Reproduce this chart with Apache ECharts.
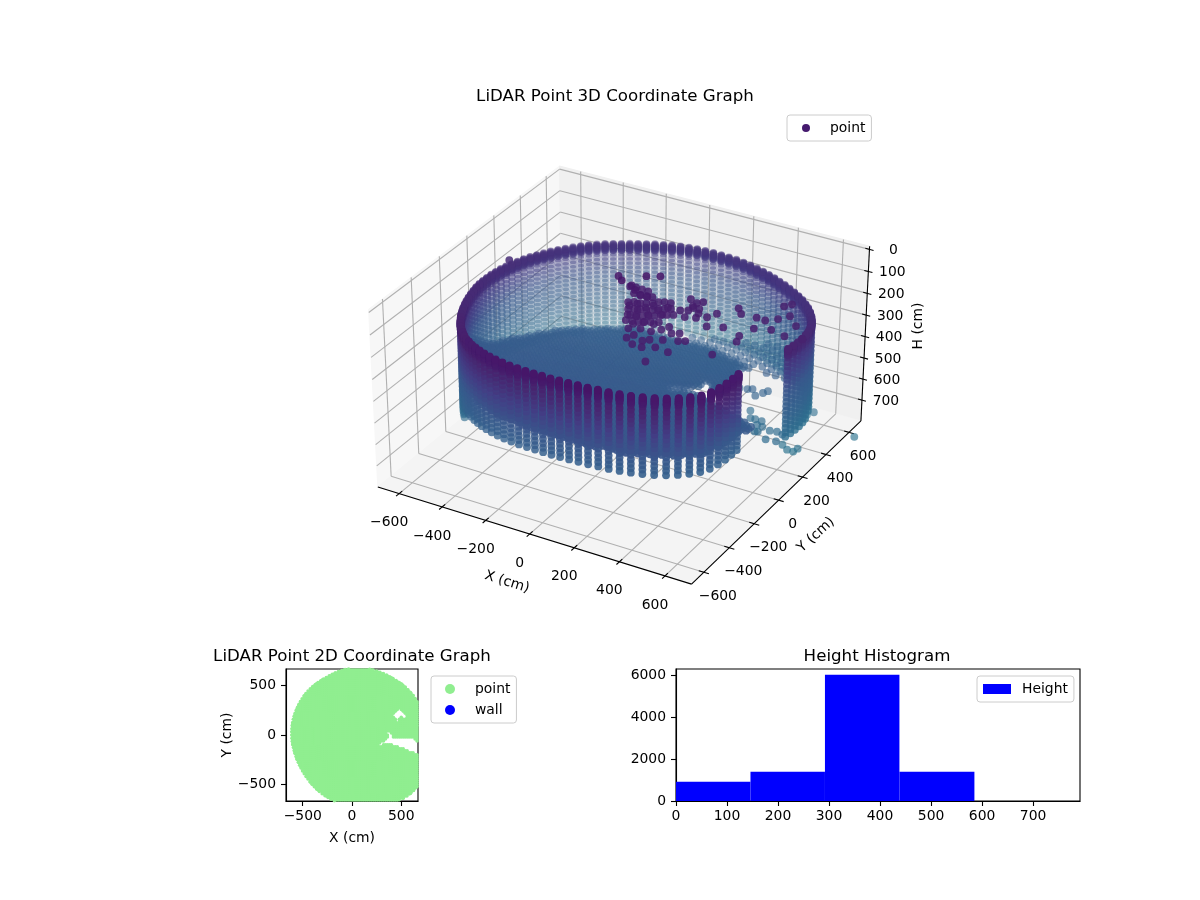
<!DOCTYPE html>
<html>
<head>
<meta charset="UTF-8"/>
<script src="https://cdn.jsdelivr.net/npm/echarts@6/dist/echarts.min.js"></script>
<style>body{margin:0;background:#fff}#main{width:1200px;height:900px}</style>
</head>
<body>
<div id="main"></div>
<script>
// tick labels
var xTicks3d = [-600,-400,-200,0,200,400,600];
var yTicks3d = [-600,-400,-200,0,200,400,600];
var hTicks3d = [0,100,200,300,400,500,600,700];
var ticks2d = [-500,0,500];
var histXTicks = [0,100,200,300,400,500,600,700];
var histYTicks = [0,2000,4000,6000];

// wall scan: azimuth (deg), range (cm) and top height (cm) of each column, row depths below the top
var wallAzimuth = [3,6,9,12,15,18,21,24,27,30,
    33,36,39,42,45,48,51,54,57,60,
    63,66,69,72,75,78,81,84,87,90,
    93,96,99,102,105,108,111,114,117,120,
    123,126,129,132,135,138,141,144,147,150,
    153,156,159,162,165,168,171,174,177,180,
    183,186,189,192,195,198,201,204,207,210,
    213,216,219,222,225,228,231,234,237,240,
    243,246,249,252,255,258,261,264,267,270,
    273,276,279,282,285,288,291,294,297,300,
    303,306,309,312,315,318,321,324,327,330,
    333,336];
var wallRange = [716,721,726,731,735,738,740,741,741,740,
    738,735,731,727,722,717,712,708,704,702,
    700,698,696,694,691,688,685,682,678,674,
    671,668,664,659,654,649,644,640,637,635,
    634,634,634,633,632,630,628,626,624,622,
    621,620,619,618,617,616,615,614,613,612,
    611,610,609,608,608,608,609,610,612,614,
    617,620,624,628,633,638,644,650,656,662,
    668,674,680,686,691,695,698,700,701,702,
    705,710,717,725,734,744,755,766,778,790,
    802,814,825,834,840,842,841,830,812,792,
    772,752];
var wallTop = [123,127,131,135,139,144,148,153,157,162,
    165,168,171,173,175,177,179,180,182,183,
    184,185,186,186,186,185,185,185,184,183,
    182,182,181,180,180,179,179,178,177,177,
    176,175,175,174,174,173,172,170,169,168,
    167,165,164,163,162,160,158,157,155,154,
    152,150,148,147,146,144,143,140,138,135,
    131,127,123,118,113,107,100,96,92,84,
    80,74,69,64,60,58,56,55,55,55,
    54,53,52,50,49,48,48,48,50,51,
    52,53,54,55,56,58,60,62,64,66,
    68,70];
var wallRowDepth = [0,2.5,5,7.5,10,12.5,15,17.5,20,22.5,25,27.5,30,40,60,80,100,120,140,160,180,200,220,240,260,280,300,320,340];
// the far side of the wall is seen further down, below the near-side rows
var farRowDepth = [360,380,400];
var farAzimuthEnd = 230;
// the first columns next to the wall gap read darker
var strongAzimuthEnd = 20;

// floor points: grid rows/columns (cm) and the height of each row
var floorColumns = [-720,-700,-680,-660,-640,-620,-600,-580,-560,-540,-520,-500,-480,-460,-440,-420,-400,-380,-360,-340,-320,-300,-280,-260,-240,-220,-200,-180,-160,-140,-120,-100,-80,-60,-40,-20,0,20,40,60,80,100,120,140,160,180,200,220,240,260,280,300,320,340,360,380,400,420,440,460,480,500,520,540,560,580,600,620,640,660,680,700,720];
var floorRows = floorColumns.slice();
var floorRowHeight = [300,302,304,306,308,309,311,313,315,317,319,321,323,325,326,328,330,332,334,336,338,340,341,343,345,347,349,351,353,355,357,358,360,362,364,366,368,370,372,374,375,377,379,381,383,385,387,389,391,392,394,396,398,400,402,404,406,408,409,411,413,415,417,419,421,423,425,426,428,430,432,434,436];

// white gaps in the floor seen from above
var gapWedgeX = [252,364,357,388,415,619,670,760,760,670,483,364];
var gapWedgeY = [-116,-31,27,27,-24,-31,-88,-60,-230,-200,-122,-82];
var gapStarX = [408,483,510,558,483,456,449];
var gapStarY = [190,265,252,170,184,116,173];
// floor returns that only show from above: far part and right sector
var thinX = [-509,-351,-98,273,480,470,800,800,-800,-800];
var thinY = [-144,129,319,302,230,-120,-120,800,800,-144];
// patch inside that part where the returns are still seen, but sparser
var patchyX = [104,463,623,284];
var patchyY = [361,521,247,53];

// hanging clutter over the floor
var clutterX = [-72,-43,23,71,2,32,61,92,49,80,95,149,164,187,234,135,162,204,137,266,264,312,321,355,374,389,426,456,448,546,533,554,522,561,616,327,267,300,351,181,252,232,296,375,212,255,300,360,322,514,96,116,112,131,196,178,224,251,168,69,214,239,280,-610,
    -26,-2,26,55,15,44,68,93,31,51,76,96,117,133,153,178,59,79,100,124,145,161,181,202,90,110,135,155,175,192,212,121,145,165,186,230,266,283,273,297,
    554,611,668,667,737,582,573];
var clutterY = [107,82,159,185,81,56,47,47,-17,-83,-33,-46,4,41,1,-137,-105,-99,-177,60,100,59,23,49,93,-15,172,137,9,-63,-19,59,140,137,83,-115,-90,-130,-169,-211,-214,-234,-190,-156,-276,-279,-254,-263,-367,-196,-125,-81,1,27,-20,-155,-154,-123,-243,10,-77,45,8,165,
    118,122,120,118,77,75,80,85,4,16,20,32,44,62,74,79,-44,-32,-21,-16,-4,14,26,38,-81,-70,-65,-53,-41,-23,-11,-119,-114,-103,-91,145,129,148,88,92,
    305,246,188,96,108,203,334];
var clutterH = [50,50,50,50,60,60,70,70,90,90,90,90,90,90,90,90,90,90,90,90,90,90,90,90,90,90,90,90,90,90,90,90,90,90,90,90,90,90,90,90,90,90,90,90,90,90,90,90,90,90,90,90,90,90,90,90,90,90,90,90,90,90,90,150,
    90,90,90,90,90,90,90,90,90,90,90,90,90,90,90,90,90,90,90,90,90,90,90,90,90,90,90,90,90,90,90,90,90,90,90,90,90,90,90,90,
    110,110,110,110,110,110,110];

// low teal returns behind the wall gap and two stray points
var ledgeX = [520,548,568,597,595,620,611,622,659,687,676,718,715,707,740,767,772,493,544,560,570,510,392,431,462,224,215,726,921];
var ledgeY = [113,62,64,63,29,26,-20,-15,14,21,-51,-45,12,32,8,7,35,135,105,138,160,145,131,126,127,-94,-115,254,224];
var ledgeH = [500,500,500,500,500,500,500,500,500,500,500,500,500,560,560,560,560,420,420,420,420,420,420,420,420,420,420,520,560];

// height histogram
var histEdges = [0,146,292,438,585];
var histCounts = [920,1400,6030,1400];

var font = '"DejaVu Sans"';
var heightColors = [[0,68,1,84],[60,71,25,107],[120,72,36,111],[220,67,62,133],[320,56,88,140],[430,51,99,141],[560,44,114,142]];

// box limits of the 3d plot
var xLim = [-700,715], yLim = [-695,705], hLim = [-14,800];
var elevS = 0.552, elevC = 0.834, boxZ = 0.66;

function project(x, y, h) {
    var dx = (x - xLim[0]) / (xLim[1] - xLim[0]) - 0.5;
    var dy = (y - yLim[0]) / (yLim[1] - yLim[0]) - 0.5;
    var dz = ((hLim[1] - h) / (hLim[1] - hLim[0]) - 0.5) * boxZ;
    var xc = 0.866 * dx + 0.5 * dy;
    var yc = -0.5 * elevS * dx + 0.866 * elevS * dy + elevC * dz;
    var dn = 0.5 * elevC * dx - 0.866 * elevC * dy + elevS * dz;
    var w = 10 - dn;
    return [623 + 3600 * xc / w, 367 - 3200 * yc / w, w];
}

function colorOf(h) {
    var c = heightColors, i = 0;
    while (i < c.length - 2 && h > c[i + 1][0]) i++;
    var t = Math.max(0, Math.min(1, (h - c[i][0]) / (c[i + 1][0] - c[i][0])));
    return [1, 2, 3].map(function (k) { return Math.round(c[i][k] + (c[i + 1][k] - c[i][k]) * t); });
}

function inPolygon(px, py, xs, ys) {
    var inside = false;
    for (var i = 0, j = xs.length - 1; i < xs.length; j = i++) {
        if ((ys[i] > py) !== (ys[j] > py) && px < (xs[j] - xs[i]) * (py - ys[i]) / (ys[j] - ys[i]) + xs[i]) inside = !inside;
    }
    return inside;
}

function rangeAt(x, y) {
    var az = Math.atan2(y, x) * 180 / Math.PI;
    if (az < 0) az += 360;
    var best = 0, bestD = 999;
    wallAzimuth.forEach(function (a, i) {
        var d = Math.abs(a - az);
        d = Math.min(d, 360 - d);
        if (d < bestD) { bestD = d; best = i; }
    });
    return wallRange[best];
}

// collect the point cloud
var cloud = [];
wallAzimuth.forEach(function (a, i) {
    var x = wallRange[i] * Math.cos(a * Math.PI / 180), y = wallRange[i] * Math.sin(a * Math.PI / 180);
    var minAlpha = a < strongAzimuthEnd ? 0.8 : 0;
    wallRowDepth.forEach(function (d) { cloud.push([x, y, wallTop[i] + d, minAlpha]); });
    if (a < farAzimuthEnd) farRowDepth.forEach(function (d) { cloud.push([x, y, wallTop[i] + d, minAlpha]); });
});
var flat = [];
floorRows.forEach(function (y, r) {
    floorColumns.forEach(function (x, c) {
        if (Math.sqrt(x * x + y * y) > rangeAt(x, y)) return;
        if (inPolygon(x, y, gapWedgeX, gapWedgeY) || inPolygon(x, y, gapStarX, gapStarY)) return;
        flat.push([x, y]);
        if (inPolygon(x, y, thinX, thinY) && !(inPolygon(x, y, patchyX, patchyY) && r % 2 === 0 && c % 2 === 0)) return;
        cloud.push([x, y, floorRowHeight[r], 0]);
    });
});
clutterX.forEach(function (x, i) { cloud.push([x, clutterY[i], clutterH[i], 0.85]); });
ledgeX.forEach(function (x, i) { cloud.push([x, ledgeY[i], ledgeH[i], 0]); });

var projected = cloud.map(function (p) {
    var s = project(p[0], p[1], p[2]);
    return { s: s, h: p[2], minAlpha: p[3] };
});
var wMin = Infinity, wMax = -Infinity;
projected.forEach(function (p) { wMin = Math.min(wMin, p.s[2]); wMax = Math.max(wMax, p.s[2]); });
projected.sort(function (a, b) { return b.s[2] - a.s[2]; });
var scatter3d = projected.map(function (p) {
    var rgb = colorOf(p.h), alpha = Math.max(p.minAlpha, 1 - 0.7 * (p.s[2] - wMin) / (wMax - wMin));
    return { value: [p.s[0], p.s[1]], itemStyle: { color: 'rgba(' + rgb.join(',') + ',' + alpha.toFixed(3) + ')', opacity: 1 } };
});

// box primitives: panes, grid lines, axis lines, ticks and labels
var prims = [];
function poly(pts, fill) { prims.push({ kind: 'polygon', pts: pts, fill: fill }); }
function seg(a, b, color, width) { prims.push({ kind: 'line', a: a, b: b, color: color, width: width }); }
function label(pos, text, rot, size) { prims.push({ kind: 'text', pos: pos, text: text, rot: rot || 0, size: size || 13.9 }); }
var x0 = xLim[0], x1 = xLim[1], y0 = yLim[0], y1 = yLim[1], hT = hLim[0], hB = hLim[1];
poly([project(x0,y0,hB), project(x0,y1,hB), project(x0,y1,hT), project(x0,y0,hT)], '#f7f7f7');
poly([project(x0,y1,hB), project(x1,y1,hB), project(x1,y1,hT), project(x0,y1,hT)], '#f0f0f0');
poly([project(x0,y0,hB), project(x1,y0,hB), project(x1,y1,hB), project(x0,y1,hB)], '#f4f4f4');
var gridColor = '#b0b0b0';
xTicks3d.forEach(function (x) {
    seg(project(x,y0,hB), project(x,y1,hB), gridColor, 1.1);
    seg(project(x,y1,hB), project(x,y1,hT), gridColor, 1.1);
});
yTicks3d.forEach(function (y) {
    seg(project(x0,y,hB), project(x1,y,hB), gridColor, 1.1);
    seg(project(x0,y,hB), project(x0,y,hT), gridColor, 1.1);
});
hTicks3d.forEach(function (h) {
    seg(project(x0,y0,h), project(x0,y1,h), gridColor, 1.1);
    seg(project(x0,y1,h), project(x1,y1,h), gridColor, 1.1);
});
seg(project(x0,y0,hB), project(x1,y0,hB), '#000', 1.1);
seg(project(x1,y0,hB), project(x1,y1,hB), '#000', 1.1);
seg(project(x1,y1,hB), project(x1,y1,hT), '#000', 1.1);
function minus(v) { return String(v).replace('-', '\u2212'); }
xTicks3d.forEach(function (x) {
    seg(project(x,y0-22,hB), project(x,y0+22,hB), '#000', 1.1);
    var p = project(x,y0,hB);
    label([p[0]-10, p[1]+29], minus(x));
});
yTicks3d.forEach(function (y) {
    seg(project(x1-22,y,hB), project(x1+22,y,hB), '#000', 1.1);
    var p = project(x1,y,hB);
    label([p[0]+14, p[1]+24], minus(y));
});
hTicks3d.forEach(function (h) {
    seg(project(x1-18,y1,h), project(x1+18,y1,h), '#000', 1.1);
    var p = project(x1,y1,h);
    label([p[0]+24, p[1]+1], String(h));
});
label([507,582], 'X (cm)', -0.3);
label([816,535], 'Y (cm)', 0.74);
label([918,326], 'H (cm)', Math.PI / 2);

function renderBox(params, api) {
    var p = prims[params.dataIndex];
    if (p.kind === 'polygon') {
        return { type: 'polygon', shape: { points: p.pts.map(function (q) { return api.coord([q[0], q[1]]); }) }, style: { fill: p.fill, stroke: p.fill } };
    }
    if (p.kind === 'line') {
        var a = api.coord([p.a[0], p.a[1]]), b = api.coord([p.b[0], p.b[1]]);
        return { type: 'line', shape: { x1: a[0], y1: a[1], x2: b[0], y2: b[1] }, style: { stroke: p.color, lineWidth: p.width } };
    }
    var c = api.coord(p.pos);
    return { type: 'text', x: c[0], y: c[1], rotation: p.rot, style: { text: p.text, x: 0, y: 0, align: 'center', verticalAlign: 'middle', fill: '#000', font: p.size + 'px ' + font } };
}

function renderHist(params, api) {
    var i = params.dataIndex;
    var a = api.coord([histEdges[i], histCounts[i]]), b = api.coord([histEdges[i + 1], 0]);
    return { type: 'rect', shape: { x: a[0], y: a[1], width: b[0] - a[0], height: b[1] - a[1] }, style: { fill: '#0000ff' } };
}

var tickStyle = { show: true, length: 5, inside: false, lineStyle: { color: '#000', width: 1.1 } };
function valueAxis(grid, lo, hi, ticks, margin, name, gap, rotate) {
    return {
        type: 'value', gridIndex: grid, min: lo, max: hi, splitLine: { show: false },
        name: name, nameLocation: 'middle', nameGap: gap, nameRotate: rotate,
        nameTextStyle: { fontFamily: font, fontSize: 13.9, color: '#000' },
        axisLine: { show: true, onZero: false, lineStyle: { color: '#000', width: 1.1 } },
        axisTick: Object.assign({ customValues: ticks }, tickStyle),
        axisLabel: { customValues: ticks, margin: margin, fontFamily: font, fontSize: 13.9, color: '#000', formatter: minus }
    };
}
var hidden = function (hi, inverse) { return { type: 'value', gridIndex: 0, min: 0, max: hi, inverse: inverse, show: false }; };
var legendBox = { orient: 'vertical', backgroundColor: '#fff', borderColor: '#ccc', borderWidth: 1, borderRadius: 3, selectedMode: false, itemGap: 7,
    textStyle: { fontFamily: font, fontSize: 13.9, color: '#000' } };
function titleAt(text, x, y) {
    return { text: text, left: x, top: y, textAlign: 'center', textStyle: { fontFamily: font, fontSize: 16.67, fontWeight: 'normal', color: '#000' } };
}

var myChart = echarts.init(document.getElementById('main'), null, { renderer: 'canvas' });
myChart.setOption({
    animation: false,
    backgroundColor: '#fff',
    title: [titleAt('LiDAR Point 3D Coordinate Graph', 610, 83), titleAt('LiDAR Point 2D Coordinate Graph', 347, 643), titleAt('Height Histogram', 872, 643)],
    grid: [
        { left: 0, top: 0, width: 1200, height: 900 },
        { left: 286, top: 669, width: 132, height: 132, show: true, borderColor: '#000', borderWidth: 1.1, backgroundColor: '#fff' },
        { left: 676, top: 669, width: 404, height: 132, show: true, borderColor: '#000', borderWidth: 1.1, backgroundColor: '#fff' }
    ],
    xAxis: [hidden(1200, false), valueAxis(1, -670, 670, ticks2d, 8, 'X (cm)', 30), valueAxis(2, 0, 792, histXTicks, 8)],
    yAxis: [hidden(900, true), valueAxis(1, -670, 670, ticks2d, 10, 'Y (cm)', 49, 90), valueAxis(2, 0, 6300, histYTicks, 10)],
    legend: [
        Object.assign({}, legendBox, { left: 787, top: 115, padding: [6, 6, 6, 15], itemWidth: 38, itemHeight: 8, data: [{ name: 'point', icon: 'circle', itemStyle: { color: '#451a6e', opacity: 1 } }] }),
        Object.assign({}, legendBox, { left: 431, top: 676, padding: [6, 6, 6, 14], itemWidth: 40, itemHeight: 10, data: [{ name: 'point', icon: 'circle', itemStyle: { color: '#90ee90', opacity: 1 } }, { name: 'wall', icon: 'circle', itemStyle: { color: '#0000ff', opacity: 1 } }] }),
        Object.assign({}, legendBox, { left: 977, top: 676, padding: [6, 6, 6, 6], itemWidth: 28, itemHeight: 10, textStyle: { fontFamily: font, fontSize: 13.9, color: '#000', padding: [0, 0, 0, 6] }, data: [{ name: 'Height', icon: 'rect', itemStyle: { color: '#0000ff', opacity: 1 } }] })
    ],
    series: [
        { type: 'custom', xAxisIndex: 0, yAxisIndex: 0, silent: true, clip: false, renderItem: renderBox, data: prims.map(function (p, i) { return [i]; }) },
        { name: 'point', type: 'scatter', xAxisIndex: 0, yAxisIndex: 0, symbolSize: 7.8, silent: true, progressive: 0, large: false, data: scatter3d },
        { name: 'point', type: 'scatter', xAxisIndex: 1, yAxisIndex: 1, symbolSize: 3.5, silent: true, progressive: 0, itemStyle: { color: '#90ee90', opacity: 1 }, clip: true,
          data: flat.concat(wallAzimuth.map(function (a, i) { return [wallRange[i] * Math.cos(a * Math.PI / 180), wallRange[i] * Math.sin(a * Math.PI / 180)]; })) },
        { name: 'wall', type: 'scatter', xAxisIndex: 1, yAxisIndex: 1, symbolSize: 4.5, itemStyle: { color: '#0000ff', opacity: 1 }, data: [] },
        { name: 'Height', type: 'custom', xAxisIndex: 2, yAxisIndex: 2, silent: true, renderItem: renderHist, itemStyle: { color: '#0000ff' }, data: histCounts.map(function (c, i) { return [histEdges[i], c]; }) }
    ]
});
</script>
</body>
</html>
